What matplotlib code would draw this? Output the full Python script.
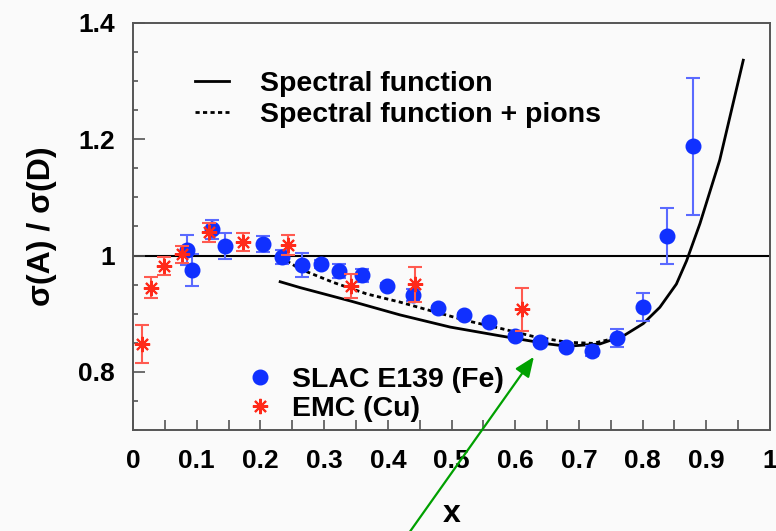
import matplotlib
matplotlib.use('Agg')
import matplotlib.pyplot as plt
from matplotlib.lines import Line2D
from matplotlib.ticker import MultipleLocator, FormatStrFormatter

# SLAC E139 (Fe) points
slac_x = [0.084, 0.093, 0.124, 0.144, 0.204, 0.234, 0.265, 0.295, 0.324, 0.359, 0.399, 0.439,
          0.479, 0.519, 0.559, 0.600, 0.639, 0.680, 0.720, 0.759, 0.800, 0.839, 0.879]
slac_y = [1.010, 0.975, 1.045, 1.016, 1.020, 0.998, 0.984, 0.986, 0.973, 0.966, 0.948, 0.932,
          0.909, 0.897, 0.885, 0.861, 0.851, 0.843, 0.836, 0.858, 0.912, 1.034, 1.188]
slac_err = [0.026, 0.027, 0.017, 0.022, 0.013, 0.012, 0.021, 0.007, 0.012, 0.011, 0.004, 0.010,
            0.004, 0.004, 0.004, 0.004, 0.004, 0.006, 0.008, 0.016, 0.024, 0.048, 0.118]

# EMC (Cu) points
emc_x = [0.014, 0.029, 0.048, 0.077, 0.120, 0.172, 0.243, 0.342, 0.443, 0.611]
emc_y = [0.848, 0.945, 0.982, 1.002, 1.040, 1.023, 1.018, 0.948, 0.951, 0.908]
emc_err = [0.032, 0.018, 0.015, 0.014, 0.016, 0.015, 0.017, 0.021, 0.030, 0.037]

# model curves
sf_x = [0.231, 0.262, 0.341, 0.419, 0.498, 0.576, 0.652, 0.681, 0.733, 0.770, 0.801,
        0.827, 0.853, 0.869, 0.890, 0.921, 0.958]
sf_y = [0.955, 0.945, 0.922, 0.898, 0.877, 0.862, 0.848, 0.844, 0.848, 0.862, 0.883,
        0.911, 0.951, 0.991, 1.055, 1.164, 1.336]
sfp_x = [0.241, 0.262, 0.314, 0.367, 0.419, 0.471, 0.524, 0.576, 0.628, 0.681, 0.722, 0.765]
sfp_y = [0.991, 0.977, 0.954, 0.934, 0.920, 0.904, 0.888, 0.875, 0.861, 0.851, 0.849, 0.860]

plt.rcParams['font.family'] = ['Liberation Sans', 'DejaVu Sans']
plt.rcParams['font.weight'] = 'bold'

bg = '#fafafa'
dotted = (0, (1.5, 1.2))

fig = plt.figure(figsize=(7.76, 5.31), dpi=100, facecolor=bg)
ax = fig.add_axes([0.1714, 0.1902, 0.8209, 0.7665])
ax.set_facecolor(bg)
ax.set_xlim(0, 1)
ax.set_ylim(0.7, 1.4)

# reference line and models
ax.axhline(1.0, color='black', lw=1.5, zorder=1)
ax.plot(sf_x, sf_y, color='black', lw=2, zorder=2)
ax.plot(sfp_x, sfp_y, color='black', lw=2, linestyle=dotted, zorder=2)

# data
ax.errorbar(slac_x, slac_y, yerr=slac_err, fmt='o', color='#1030ff', ecolor='#5a6aff',
            ms=10.5, elinewidth=1.5, capsize=5, capthick=1.5, zorder=3)
ax.errorbar(emc_x, emc_y, yerr=emc_err, fmt='none', ecolor='#ff5a50',
            elinewidth=1.5, capsize=5, capthick=1.5, zorder=4)
ax.plot(emc_x, emc_y, linestyle='none', marker=(8, 2, 0), ms=11, mec='#ff2a1a',
        mew=1.5, zorder=5)

# axes styling, ROOT-like
ax.xaxis.set_major_locator(MultipleLocator(0.1))
ax.xaxis.set_minor_locator(MultipleLocator(0.05))
ax.yaxis.set_major_locator(MultipleLocator(0.2))
ax.yaxis.set_minor_locator(MultipleLocator(0.05))
ax.xaxis.set_major_formatter(FormatStrFormatter('%g'))
ax.yaxis.set_major_formatter(FormatStrFormatter('%g'))
ax.tick_params(which='both', direction='in', colors='#555555', labelcolor='black',
               labelsize=19, top=False, right=False)
ax.tick_params(axis='y', which='major', length=8.6, width=1.2, pad=13)
ax.tick_params(axis='y', which='minor', length=3.6, width=1.2)
ax.tick_params(axis='x', which='both', length=7, width=1.2, pad=14)
for s in ax.spines.values():
    s.set_color('#555555')
    s.set_linewidth(1.4)

ax.set_xlabel('x', fontsize=23, fontweight='bold')
ax.xaxis.set_label_coords(0.5, -0.17)
ax.set_ylabel('σ(A) / σ(D)', fontsize=23, fontweight='bold')
ax.yaxis.set_label_coords(-0.12, 0.5)

# legends
leg_font = {'size': 20.5, 'weight': 'bold'}
leg1 = ax.legend(handles=[Line2D([], [], color='black', lw=2),
                          Line2D([], [], color='black', lw=2, linestyle=dotted)],
                 labels=['Spectral function', 'Spectral function + pions'],
                 loc='upper left', bbox_to_anchor=(0.097, 0.882), frameon=False,
                 prop=leg_font, handlelength=1.2, handletextpad=1.1,
                 labelspacing=0.18, borderpad=0, borderaxespad=0)
ax.add_artist(leg1)
ax.legend(handles=[Line2D([], [], ls='none', marker='o', ms=10.5, color='#1030ff'),
                   Line2D([], [], ls='none', marker=(8, 2, 0), ms=11, mec='#ff2a1a', mew=1.5)],
          labels=['SLAC E139 (Fe)', 'EMC (Cu)'],
          loc='upper left', bbox_to_anchor=(0.177, 0.155), frameon=False,
          prop=leg_font, handlelength=1.0, handletextpad=0.62,
          labelspacing=0.1, borderpad=0, borderaxespad=0)

# green arrow pointing at the minimum
ax.annotate('', xy=(0.688, 0.328), xycoords='figure fraction',
            xytext=(0.524, -0.01), textcoords='figure fraction',
            arrowprops=dict(arrowstyle='-|>,head_length=0.6,head_width=0.25', color='#00a000',
                            lw=1.6, mutation_scale=20, shrinkA=0, shrinkB=0),
            annotation_clip=False)

fig.savefig('out.png', dpi=100, facecolor=bg)
